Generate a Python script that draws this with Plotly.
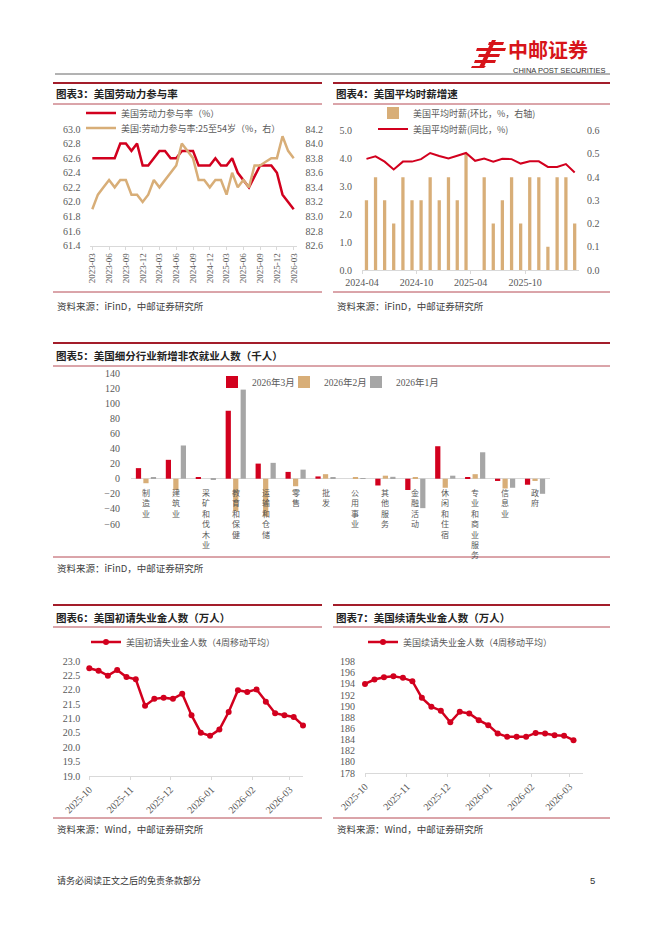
import plotly.graph_objects as go
import pandas as pd

W, H = 662, 936
def px(x): return x / W
def py(y): return 1 - y / H

RED = "#D2001E"
TAN = "#D8AE78"
GRAY = "#A6A6A6"
DARKRED = "#A31D2A"
TXT = "#404040"
TICK = "#595959"
CJK = "Noto Sans CJK SC"
NUM = "Liberation Serif, Noto Sans CJK SC"

# ---------------- data ----------------
# Chart 3: labour force participation (monthly)
lfpr_months = pd.period_range("2023-03", "2026-03", freq="M").strftime("%Y-%m").tolist()
lfpr_total = [62.6, 62.6, 62.6, 62.6, 62.6, 62.8, 62.8, 62.7, 62.8, 62.5, 62.5, 62.6, 62.7,
              62.7, 62.6, 62.6, 62.7, 62.7, 62.7, 62.5, 62.5, 62.5, 62.6, 62.5, 62.5, 62.6,
              62.4, 62.3, 62.2, 62.35, 62.5, 62.5, 62.5, 62.4, 62.1, 62.0, 61.9]
lfpr_prime = [83.1, 83.3, 83.4, 83.5, 83.4, 83.5, 83.5, 83.3, 83.3, 83.2, 83.3, 83.5, 83.4,
              83.5, 83.6, 83.7, 84.0, 83.9, 83.8, 83.5, 83.5, 83.4, 83.5, 83.5, 83.3, 83.6,
              83.4, 83.5, 83.4, 83.7, 83.7, 83.75, 83.8, 83.8, 84.1, 83.9, 83.8]
lfpr_ticks = ["2023-03", "2023-06", "2023-09", "2023-12", "2024-03", "2024-06", "2024-09",
              "2024-12", "2025-03", "2025-06", "2025-09", "2025-12", "2026-03"]

# Chart 4: average hourly earnings
ahe_months = pd.date_range("2024-04-01", "2026-03-01", freq="MS")
ahe_mom = [0.3, 0.4, 0.3, 0.2, 0.4, 0.3, 0.3, 0.4, 0.3, 0.4, 0.3, 0.5, None, 0.4, 0.2, 0.3,
           0.4, 0.2, 0.4, 0.4, 0.1, 0.4, 0.4, 0.2]
ahe_yoy = [3.99, 4.08, 3.89, 3.61, 3.89, 3.89, 3.98, 4.2, 4.09, 4.0, 4.1, 4.2, 3.92, 4.0,
           3.89, 3.99, 3.98, 3.82, 3.9, 3.9, 3.7, 3.7, 3.8, 3.5]
ahe_ticks = ["2024-04-01", "2024-10-01", "2025-04-01", "2025-10-01"]

# Chart 5: nonfarm payroll change by industry (thousand)
industries = ["制造业", "建筑业", "采矿和伐木业", "教育和保健", "运输和仓储", "零售", "批发",
              "公用事业", "其他服务", "金融活动", "休闲和住宿", "专业和商业服务", "信息业", "政府"]
nfp_mar = [14, 25, 2, 90, 20, 9, 3, 0, -9, -15, 43, 2, -3, -8]
nfp_feb = [-6, -15, 0, -43, -50, -10, 6, 1, 4, 2, -12, 6, -13, -3]
nfp_jan = [2, 44, -1, 118, 21, 12, 1.5, 0.5, 2.5, -39, 4, 35, -12, -20]

# Chart 6 / 7: jobless claims (4-week moving average, 10k)
claims_dates = pd.date_range("2025-10-01", periods=24, freq="7D")
initial_claims = [22.76, 22.67, 22.5, 22.7, 22.45, 22.37, 21.45, 21.69, 21.73, 21.69, 21.87,
                  21.12, 20.51, 20.4, 20.62, 21.23, 21.99, 21.93, 22.02, 21.59, 21.19, 21.12,
                  21.06, 20.76]
cont_dates = pd.date_range("2025-10-01", periods=23, freq="7D")
continued_claims = [194.0, 194.8, 195.2, 195.4, 195.1, 194.5, 191.5, 189.9, 189.2, 187.1,
                    189.0, 188.7, 187.5, 186.6, 185.1, 184.5, 184.5, 184.5, 185.2, 185.1,
                    184.8, 184.7, 183.9]

# ---------------- figure ----------------
fig = go.Figure()

# chart 3
fig.add_trace(go.Scatter(x=lfpr_months, y=lfpr_total, mode="lines", name="美国劳动力参与率（%）",
                         line=dict(color=RED, width=2.5), xaxis="x", yaxis="y",
                         legend="legend10", showlegend=True))
fig.add_trace(go.Scatter(x=lfpr_months, y=lfpr_prime, mode="lines",
                         name="美国:劳动力参与率:25至54岁（%，右）",
                         line=dict(color=TAN, width=2.5), xaxis="x", yaxis="y2",
                         legend="legend2", showlegend=True))

# chart 4
fig.add_trace(go.Bar(x=ahe_months, y=ahe_mom, name="美国平均时薪(环比，%，右轴)",
                     marker_color=TAN, xperiod="M1", xperiodalignment="middle",
                     width=11 * 86400000, xaxis="x2", yaxis="y3", legend="legend3",
                     showlegend=True))
fig.add_trace(go.Scatter(x=ahe_months, y=ahe_yoy, mode="lines", name="美国平均时薪(同比，%)",
                         line=dict(color=RED, width=2), xperiod="M1", xperiodalignment="middle",
                         xaxis="x2", yaxis="y4", legend="legend4", showlegend=True))

# chart 5
for nm, vals, col, lg in [("2026年3月", nfp_mar, RED, "legend5"),
                          ("2026年2月", nfp_feb, TAN, "legend6"),
                          ("2026年1月", nfp_jan, GRAY, "legend7")]:
    fig.add_trace(go.Bar(x=industries, y=vals, name=nm, marker_color=col,
                         xaxis="x3", yaxis="y5", legend=lg, showlegend=True))

# chart 6
fig.add_trace(go.Scatter(x=claims_dates, y=initial_claims, mode="lines+markers",
                         name="美国初请失业金人数（4周移动平均）", cliponaxis=False,
                         line=dict(color=RED, width=2.5), marker=dict(size=6, color=RED),
                         xaxis="x4", yaxis="y6", legend="legend8", showlegend=True))
# chart 7
fig.add_trace(go.Scatter(x=cont_dates, y=continued_claims, mode="lines+markers",
                         name="美国续请失业金人数（4周移动平均）", cliponaxis=False,
                         line=dict(color=RED, width=2.5), marker=dict(size=6, color=RED),
                         xaxis="x5", yaxis="y7", legend="legend9", showlegend=True))

tickfont = dict(family=NUM, size=10, color=TICK)
axline = dict(showline=True, linecolor="#D9D9D9", linewidth=1, showgrid=False, zeroline=False,
              automargin=False)
noline = dict(showline=False, showgrid=False, zeroline=False, automargin=False, ticks="")

fig.update_layout(
    template="none", showlegend=True,
    width=W, height=H, margin=dict(l=0, r=0, t=0, b=0, pad=0, autoexpand=False),
    paper_bgcolor="white", plot_bgcolor="white",
    font=dict(family=NUM, size=10, color=TICK),
    barmode="group", bargap=0.25, bargroupgap=0.3,
    # chart 3
    xaxis=dict(domain=[px(89.5), px(296.5)], anchor="y", type="category",
               tickmode="array", tickvals=lfpr_ticks, ticktext=lfpr_ticks, tickangle=-90,
               tickfont=dict(family=NUM, size=9, color=TICK), ticks="outside", ticklen=3,
               tickcolor="#D9D9D9", range=[-0.5, 36.5], **axline),
    yaxis=dict(domain=[py(245.7), py(129)], anchor="x", range=[61.4, 63.0], dtick=0.2,
               tickformat=".1f", tickfont=tickfont, ticklabelstandoff=8, **noline),
    yaxis2=dict(overlaying="y", anchor="x", side="right", range=[82.6, 84.2], dtick=0.2,
                tickformat=".1f", tickfont=tickfont, ticklabelstandoff=8, **noline),
    # chart 4
    xaxis2=dict(domain=[px(362), px(579)], anchor="y3", type="date",
                range=["2024-04-01", "2026-03-31"], tickmode="array", tickvals=ahe_ticks,
                tickformat="%Y-%m", ticks="outside", ticklen=3, tickcolor="#D9D9D9",
                tickfont=tickfont, **axline),
    yaxis3=dict(domain=[py(270), py(130.7)], anchor="x2", side="right", range=[0, 0.6],
                dtick=0.1, tickformat=".1f", tickfont=tickfont, ticklabelstandoff=7, **noline),
    yaxis4=dict(overlaying="y3", anchor="x2", side="left", range=[0, 5], dtick=1,
                tickformat=".1f", tickfont=tickfont, ticklabelstandoff=9, **noline),
    # chart 5
    xaxis3=dict(domain=[px(131), px(550)], anchor="y5", type="category",
                range=[-0.5, 13.5], showticklabels=False, **noline),
    yaxis5=dict(domain=[py(524), py(373)], anchor="x3", range=[-60, 140], dtick=20,
                tickfont=tickfont, ticks="", showline=False, showgrid=False, zeroline=True,
                zerolinecolor="#D9D9D9", zerolinewidth=1, automargin=False,
                ticklabelstandoff=10),
    # chart 6
    xaxis4=dict(domain=[px(89.3), px(303)], anchor="y6", type="date",
                range=["2025-10-01", "2026-03-11"], tick0="2025-10-01", dtick="M1",
                tickformat="%Y-%m", tickangle=-45, ticks="outside", ticklen=3,
                tickcolor="#D9D9D9", tickfont=tickfont, **axline),
    yaxis6=dict(domain=[py(776), py(661.3)], anchor="x4", range=[19.0, 23.0], dtick=0.5,
                tickformat=".1f", tickfont=tickfont, ticklabelstandoff=8, **noline),
    # chart 7
    xaxis5=dict(domain=[px(365), px(583)], anchor="y7", type="date",
                range=["2025-10-01", "2026-03-11"], tick0="2025-10-01", dtick="M1",
                tickformat="%Y-%m", tickangle=-45, ticks="outside", ticklen=3,
                tickcolor="#D9D9D9", tickfont=tickfont, **axline),
    yaxis7=dict(domain=[py(773), py(661.7)], anchor="x5", range=[178, 198], dtick=2,
                tickfont=tickfont, ticklabelstandoff=9, **noline),
)

legfont = dict(family=CJK, size=9, color=TICK)
def leg(xl, yc, font=legfont):
    return dict(x=px(xl), y=py(yc), xanchor="left", yanchor="middle", orientation="h",
                font=font, bgcolor="rgba(0,0,0,0)", borderwidth=0, visible=True)
numleg = dict(family=NUM, size=9.5, color=TICK)
fig.update_layout(
    legend=dict(visible=False),
    legend10=leg(81, 113), legend2=leg(81, 128),
    legend3=leg(373, 113), legend4=leg(373, 129),
    legend5=leg(212, 382, numleg), legend6=leg(284, 382, numleg), legend7=leg(356, 382, numleg),
    legend8=leg(86, 642), legend9=leg(363, 642),
)

# ---------------- page decorations ----------------
shapes = []
def hline(x0, x1, y, color, width):
    shapes.append(dict(type="line", xref="paper", yref="paper", x0=px(x0), x1=px(x1),
                       y0=py(y), y1=py(y), line=dict(color=color, width=width)))

# header rule
hline(55, 610, 74, "#404040", 0.8)
# section rules
for (x0, x1, top, mid, bot) in [(53, 322, 83, 104, 292), (333, 610, 83, 104, 292),
                                 (53, 610, 343, 366, 557), (53, 322, 605, 627, 818),
                                 (333, 610, 605, 627, 818)]:
    hline(x0, x1, top, DARKRED, 2)
    hline(x0, x1, mid, DARKRED, 0.8)
    hline(x0, x1, bot, DARKRED, 0.8)

# logo icon (simplified strokes)
def poly(pts):
    d = "M " + " L ".join(f"{px(x)},{py(y)}" for x, y in pts) + " Z"
    shapes.append(dict(type="path", xref="paper", yref="paper", path=d,
                       fillcolor="#D7141A", line=dict(width=0)))
poly([(489, 42), (504, 42), (503, 45), (488, 45)])
poly([(477, 48), (506, 48), (505, 51), (476, 51)])
poly([(479, 54), (500, 54), (499, 57), (478, 57)])
poly([(475, 60), (496, 60), (495, 63), (474, 63)])
poly([(492, 40), (496, 40), (484, 67), (479, 67)])
poly([(472, 66), (486, 66), (484, 68), (471, 68)])

ann = []
def text(x, y, s, size=10, color=TXT, family=CJK, xanchor="left", bold=False):
    ann.append(dict(xref="paper", yref="paper", x=px(x), y=py(y), text=(f"<b>{s}</b>" if bold else s),
                    showarrow=False, xanchor=xanchor, yanchor="middle",
                    font=dict(size=size, color=color, family=family)))

text(506, 49, "中邮证券", size=20, color="#D7141A", bold=True)
text(511, 70.5, "CHINA POST SECURITIES", size=7.5, color="#333333", family="Liberation Sans")

text(54, 94, "图表3：美国劳动力参与率", size=10.5, color="#222222", bold=True)
text(334, 94, "图表4：美国平均时薪增速", size=10.5, color="#222222", bold=True)
text(54, 355, "图表5：美国细分行业新增非农就业人数（千人）", size=10.5, color="#222222", bold=True)
text(54, 617, "图表6：美国初请失业金人数（万人）", size=10.5, color="#222222", bold=True)
text(334, 617, "图表7：美国续请失业金人数（万人）", size=10.5, color="#222222", bold=True)

text(55, 306, "资料来源：iFinD，中邮证券研究所", size=9.5)
text(335, 306, "资料来源：iFinD，中邮证券研究所", size=9.5)
text(55, 568, "资料来源：iFinD，中邮证券研究所", size=9.5)
text(55, 829, "资料来源：Wind，中邮证券研究所", size=9.5)
text(335, 829, "资料来源：Wind，中邮证券研究所", size=9.5)

text(55, 880, "请务必阅读正文之后的免责条款部分", size=9, color="#333333")
text(597, 880, "5", size=9.5, color="#333333", family="Liberation Sans", xanchor="right")

# chart 5 vertical category labels at the zero line
for name in industries:
    ann.append(dict(xref="x3", yref="y5", x=name, y=0, yshift=-6, text="<br>".join(name),
                    showarrow=False, xanchor="center", yanchor="top",
                    font=dict(size=8, color=TICK, family=CJK)))

fig.update_layout(shapes=shapes, annotations=ann)
fig.write_html("out.html", config={"displayModeBar": False},
               post_script="document.body.style.margin='0px';")
